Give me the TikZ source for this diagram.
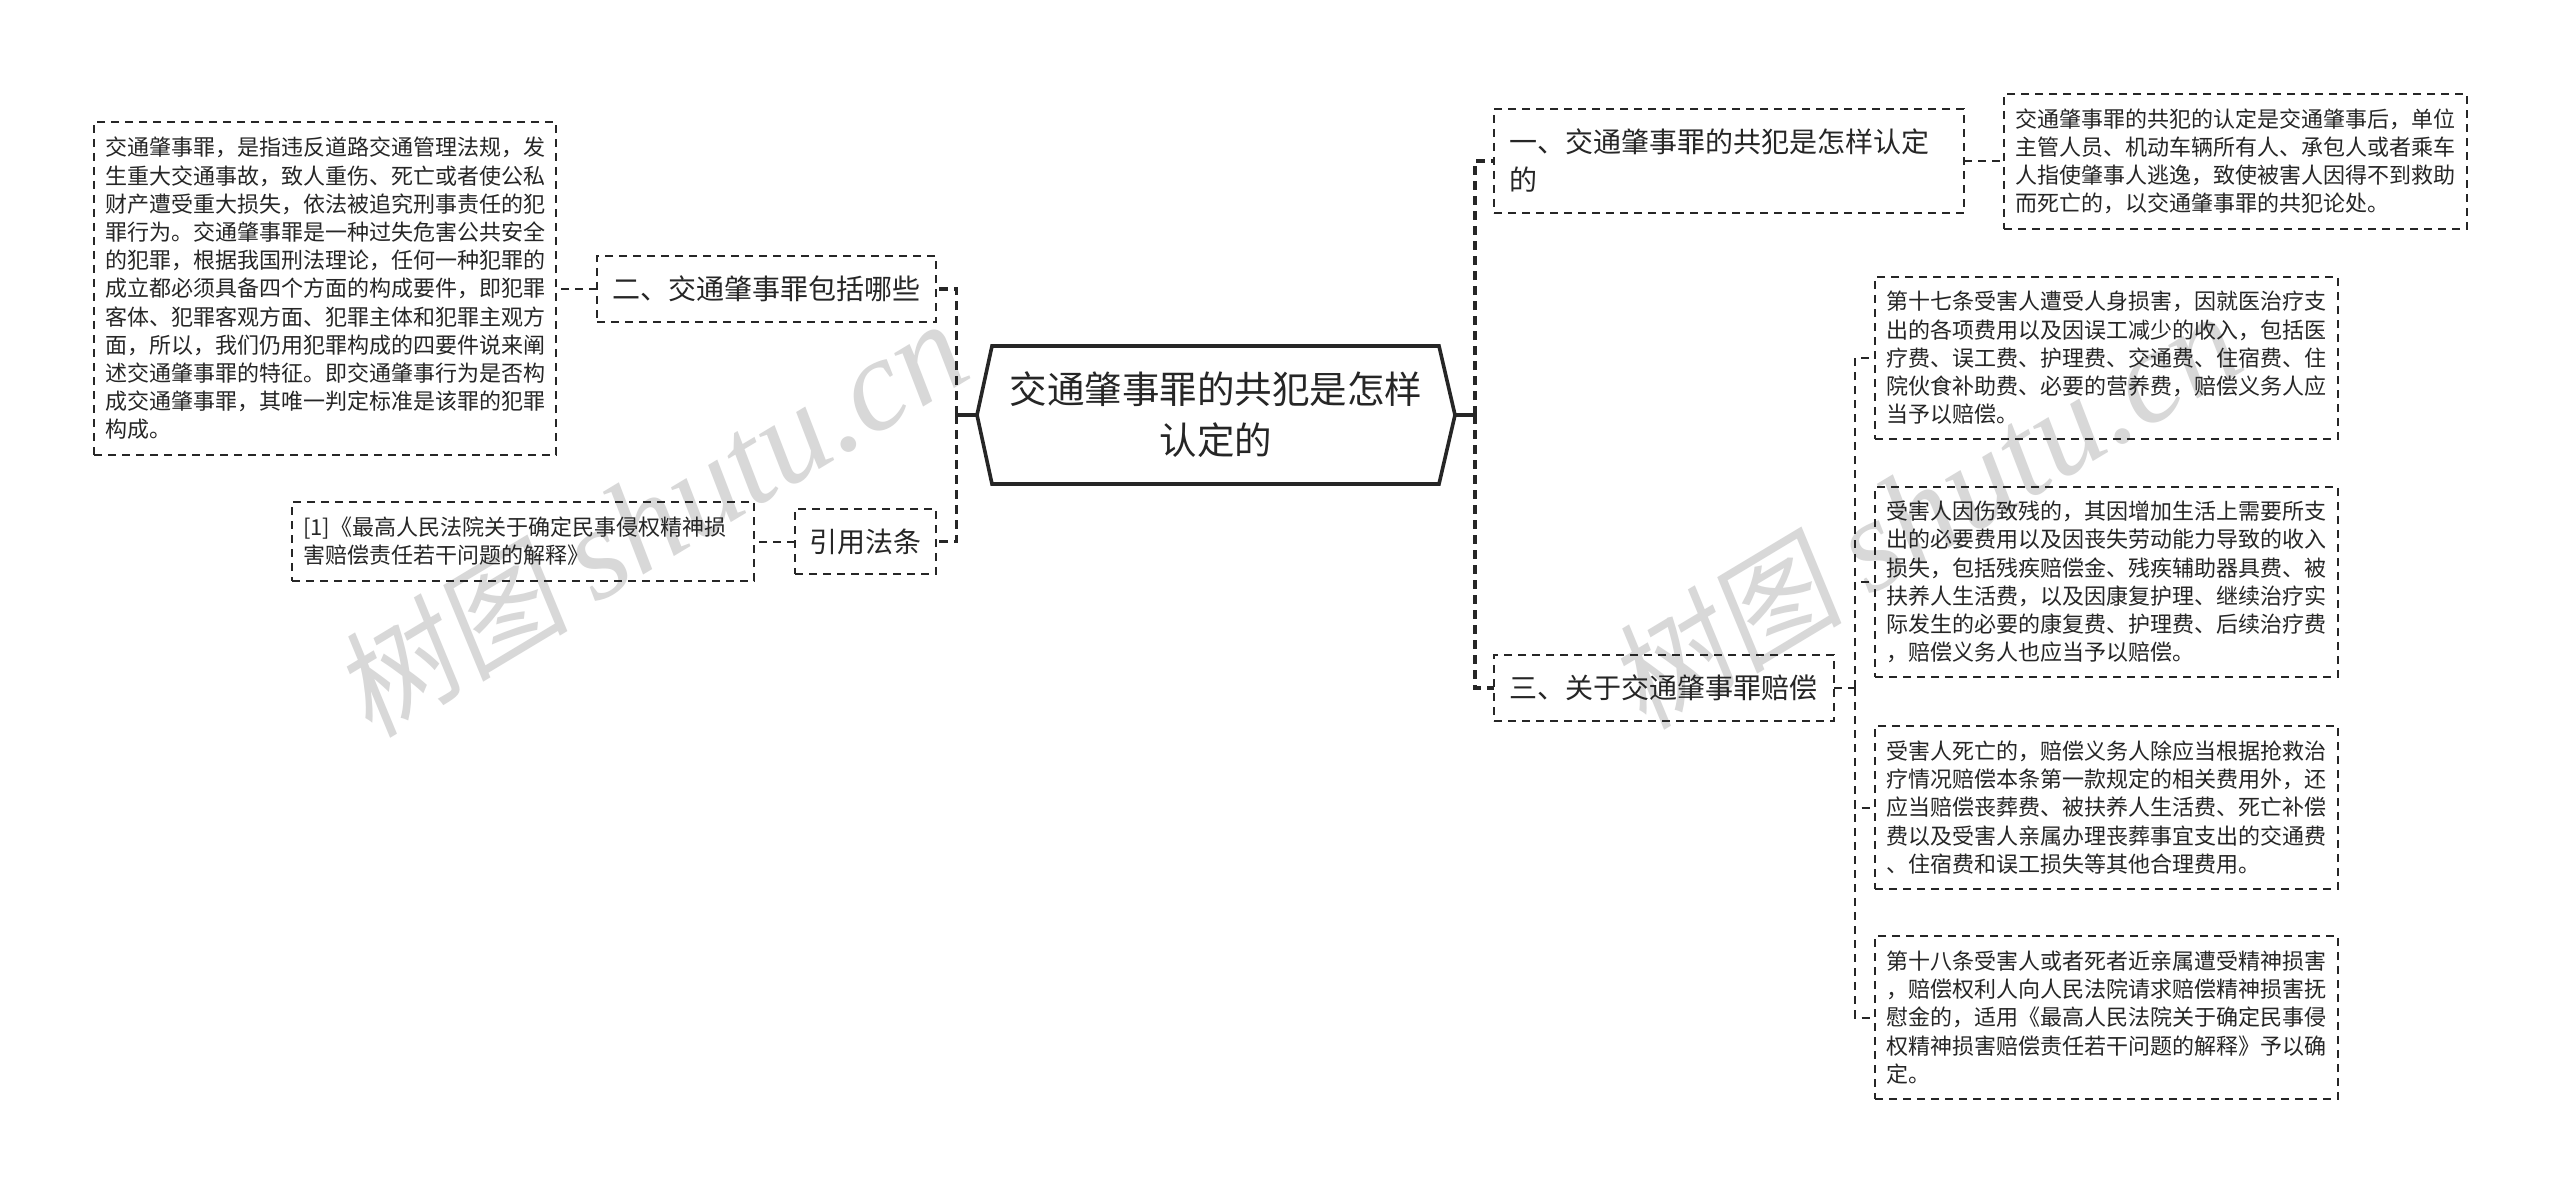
\documentclass[tikz,border=0pt]{standalone}
\usepackage{fontspec}
\setmainfont{Noto Sans CJK SC}
\newfontfamily\wmcjk{Noto Sans CJK SC}[FakeSlant=0.15]
\newfontfamily\wmlat{Liberation Serif}[ItalicFont=* Italic]
\definecolor{ink}{HTML}{262626}
\definecolor{wm}{HTML}{D8D8D8}
\tikzset{
  leaf/.style={draw=ink,line width=2pt,dash pattern=on 8pt off 6pt,outer sep=0pt,inner ysep=0pt,inner xsep=11pt,
    text width=441pt,align=left,text=ink,font=\fontsize{22pt}{28.2pt}\selectfont},
  topic/.style={leaf,inner xsep=15pt,font=\fontsize{28pt}{38pt}\selectfont},
  subline/.style={draw=ink,line width=2pt,dash pattern=on 8pt off 6pt},
  trunk/.style={draw=ink,line width=3.6pt,dash pattern=on 9pt off 6pt},
  stub/.style={draw=ink,line width=3.6pt},
  rootnode/.style={outer sep=0pt,inner sep=0pt,minimum width=478pt,minimum height=138pt,text width=440pt,
    align=center,text=ink,font=\fontsize{37.5pt}{51pt}\selectfont},
  wmark/.style={text=wm,rotate=31,inner sep=0pt}
}
\begin{document}
\begin{tikzpicture}[x=1pt,y=-1pt]
\useasboundingbox (0,0) rectangle (2560,1193);
\fill[white] (0,0) rectangle (2560,1193);
% watermarks
\node[wmark] (wm1) at (650,519) {\wmcjk\fontsize{118pt}{118pt}\selectfont 树图 \wmlat\itshape\fontsize{132pt}{132pt}\selectfont shutu.cn};
\node[wmark] (wm2) at (1924,511) {\wmcjk\fontsize{118pt}{118pt}\selectfont 树图 \wmlat\itshape\fontsize{132pt}{132pt}\selectfont shutu.cn};
% root
\node[rootnode] (root) at (1216,415) {交通肇事罪的共犯是怎样\\认定的};
\draw[ink,line width=3.6pt,line join=miter] (root.west) -- ++(15,-69) -- ++(447,0) -- (root.east) -- ++(-16,69) -- ++(-447,0) -- cycle;
% left
\node[leaf,text width=440pt,minimum height=333pt] (big) at (325,288.5) {交通肇事罪，是指违反道路交通管理法规，发\\生重大交通事故，致人重伤、死亡或者使公私\\财产遭受重大损失，依法被追究刑事责任的犯\\罪行为。交通肇事罪是一种过失危害公共安全\\的犯罪，根据我国刑法理论，任何一种犯罪的\\成立都必须具备四个方面的构成要件，即犯罪\\客体、犯罪客观方面、犯罪主体和犯罪主观方\\面，所以，我们仍用犯罪构成的四要件说来阐\\述交通肇事罪的特征。即交通肇事行为是否构\\成交通肇事罪，其唯一判定标准是该罪的犯罪\\构成。};
\node[topic,text width=309pt,minimum height=66pt] (t2) at (766.5,289) {二、交通肇事罪包括哪些};
\node[topic,text width=112pt,inner xsep=14.5pt,minimum height=65pt] (cite) at (865.5,541.5) {引用法条};
\node[leaf,text width=440pt,minimum height=79pt] (law) at (523,541.5) {[1]《最高人民法院关于确定民事侵权精神损\\害赔偿责任若干问题的解释》};
% right
\node[topic,text width=440pt,minimum height=104pt] (t1) at (1729,161) {一、交通肇事罪的共犯是怎样认定\\的};
\node[leaf,minimum height=135pt] (ans) at (2235.5,161.5) {交通肇事罪的共犯的认定是交通肇事后，单位\\主管人员、机动车辆所有人、承包人或者乘车\\人指使肇事人逃逸，致使被害人因得不到救助\\而死亡的，以交通肇事罪的共犯论处。};
\node[topic,text width=310pt,minimum height=66pt] (t3) at (1664,688) {三、关于交通肇事罪赔偿};
\node[leaf,minimum height=162pt] (r1) at (2106.5,358) {第十七条受害人遭受人身损害，因就医治疗支\\出的各项费用以及因误工减少的收入，包括医\\疗费、误工费、护理费、交通费、住宿费、住\\院伙食补助费、必要的营养费，赔偿义务人应\\当予以赔偿。};
\node[leaf,minimum height=190pt] (r2) at (2106.5,582) {受害人因伤致残的，其因增加生活上需要所支\\出的必要费用以及因丧失劳动能力导致的收入\\损失，包括残疾赔偿金、残疾辅助器具费、被\\扶养人生活费，以及因康复护理、继续治疗实\\际发生的必要的康复费、护理费、后续治疗费\\，赔偿义务人也应当予以赔偿。};
\node[leaf,minimum height=163pt] (r3) at (2106.5,807.5) {受害人死亡的，赔偿义务人除应当根据抢救治\\疗情况赔偿本条第一款规定的相关费用外，还\\应当赔偿丧葬费、被扶养人生活费、死亡补偿\\费以及受害人亲属办理丧葬事宜支出的交通费\\、住宿费和误工损失等其他合理费用。};
\node[leaf,minimum height=163pt] (r4) at (2106.5,1017.5) {第十八条受害人或者死者近亲属遭受精神损害\\，赔偿权利人向人民法院请求赔偿精神损害抚\\慰金的，适用《最高人民法院关于确定民事侵\\权精神损害赔偿责任若干问题的解释》予以确\\定。};
% junctions
\coordinate (lj) at (956.5,415);
\coordinate (rj) at (1475,415);
\coordinate (sj) at (1855,688);
% connectors
\draw[stub] (root.west) -- (lj);
\draw[stub] (root.east) -- (rj);
\draw[trunk] (lj) |- (t2.east);
\draw[trunk] (lj) |- (cite.east);
\draw[trunk] (rj) |- (t1.west);
\draw[trunk] (rj) |- (t3.west);
\draw[subline] (t2.west) -- (big.east |- t2.west);
\draw[subline] (cite.west) -- (law.east |- cite.west);
\draw[subline] (t1.east) -- (ans.west |- t1.east);
\draw[subline] (t3.east) -- (sj);
\draw[subline] (sj) |- (r1.west);
\draw[subline] (sj) |- (r2.west);
\draw[subline] (sj) |- (r3.west);
\draw[subline] (sj) |- (r4.west);
\end{tikzpicture}
\end{document}
